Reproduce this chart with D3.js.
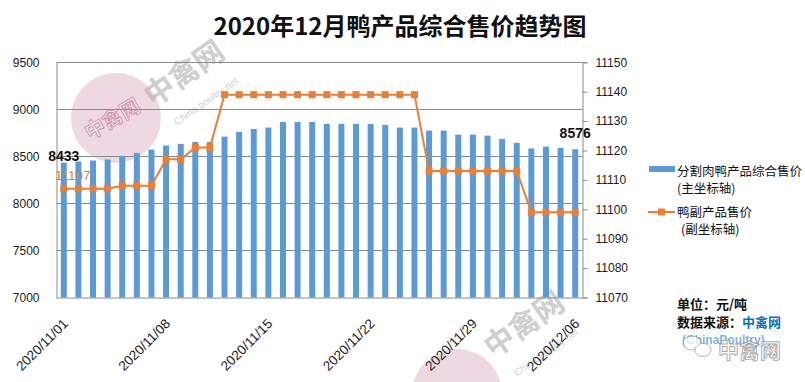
<!DOCTYPE html>
<html><head><meta charset="utf-8">
<script src="https://cdn.jsdelivr.net/npm/d3@7"></script>
<style>
html,body{margin:0;padding:0;background:#fff;}
svg{display:block;}
</style></head>
<body>
<svg id="chart" width="805" height="382"></svg>
<script>
const dates = ["2020/11/01","2020/11/02","2020/11/03","2020/11/04","2020/11/05","2020/11/06","2020/11/07","2020/11/08","2020/11/09","2020/11/10","2020/11/11","2020/11/12","2020/11/13","2020/11/14","2020/11/15","2020/11/16","2020/11/17","2020/11/18","2020/11/19","2020/11/20","2020/11/21","2020/11/22","2020/11/23","2020/11/24","2020/11/25","2020/11/26","2020/11/27","2020/11/28","2020/11/29","2020/11/30","2020/12/01","2020/12/02","2020/12/03","2020/12/04","2020/12/05","2020/12/06"];
const meatPrice = [8433,8445,8456,8467,8505,8537,8573,8615,8633,8654,8654,8710,8760,8791,8806,8866,8866,8866,8845,8845,8845,8845,8835,8806,8806,8774,8774,8731,8731,8721,8686,8644,8584,8604,8590,8576];
const byproductPrice = [11107,11107,11107,11107,11108,11108,11108,11117,11117,11121,11121,11139,11139,11139,11139,11139,11139,11139,11139,11139,11139,11139,11139,11139,11139,11113,11113,11113,11113,11113,11113,11113,11099,11099,11099,11099];
const leftTicks = [7000,7500,8000,8500,9000,9500];
const rightTicks = [11070,11080,11090,11100,11110,11120,11130,11140,11150];
const xLabelDates = ["2020/11/01","2020/11/08","2020/11/15","2020/11/22","2020/11/29","2020/12/06"];
const title = "2020年12月鸭产品综合售价趋势图";
const seriesNames = ["分割肉鸭产品综合售价","鸭副产品售价"];
const seriesAxisNotes = ["(主坐标轴)","(副坐标轴)"];

const svg = d3.select("#chart");
const L = 56.5, R = 582.5, T = 62.3, B = 297.5;
const BLUE = "#5B9BD5", ORANGE = "#ED7D31", GRID = "#8a8a8a";
const numFont = "'Liberation Sans', Arial, sans-serif";
const cjkFont = "'Noto Sans CJK SC', 'Noto Sans', sans-serif";

const x = d3.scaleBand().domain(dates).range([L, R]).paddingInner(0.59).paddingOuter(0.295);
const yL = d3.scaleLinear().domain([7000, 9500]).range([B, T]);
const yR = d3.scaleLinear().domain([11070, 11150]).range([B, T]);
const cx = d => x(d) + x.bandwidth() / 2;

// watermarks (behind)
function watermark(g, ccx, ccy, tx, ty, inner) {
  const w = g.append("g");
  w.append("circle").attr("cx", ccx).attr("cy", ccy).attr("r", 45).attr("fill", "#e3c0d1").attr("opacity", 0.6);
  w.append("circle").attr("cx", ccx).attr("cy", ccy).attr("r", 31).attr("fill", "#eed7e2").attr("opacity", 0.7);
  if (inner) {
    w.append("text").attr("transform", `translate(${ccx},${ccy + 7}) rotate(-30)`)
      .attr("text-anchor", "middle").attr("font-family", cjkFont).attr("font-weight", "bold")
      .attr("font-size", 20).attr("fill", "#f6eaf0").attr("stroke", "#d39bb6").attr("stroke-width", 1).text("中禽网");
  }
  w.append("text").attr("transform", `translate(${tx},${ty}) rotate(-35)`)
    .attr("text-anchor", "middle").attr("font-family", cjkFont).attr("font-weight", "bold")
    .attr("font-size", 30).attr("fill", "#b0b0b0").attr("opacity", 0.6).text("中禽网");
  w.append("text").attr("transform", `translate(${tx + 18},${ty + 22}) rotate(-35)`)
    .attr("text-anchor", "middle").attr("font-family", numFont)
    .attr("font-size", 10).attr("fill", "#c0c0c0").attr("opacity", 0.7).text("China poultry net");
}
const wm = svg.append("g");

// gridlines
svg.append("g").selectAll("line").data(leftTicks.filter(t => t > 7000)).join("line")
  .attr("x1", L).attr("x2", R).attr("y1", d => Math.round(yL(d)) + 0.5).attr("y2", d => Math.round(yL(d)) + 0.5)
  .attr("stroke", GRID).attr("stroke-width", 1);

watermark(wm, 116, 118, 190, 82, true);
watermark(wm, 457, 394, 530, 333, false);

// bars
svg.append("g").selectAll("rect").data(meatPrice).join("rect")
  .attr("x", (d, i) => x(dates[i])).attr("width", x.bandwidth())
  .attr("y", d => yL(d)).attr("height", d => B - yL(d)).attr("fill", BLUE);

// axes
const axL = svg.append("g").attr("transform", `translate(${L},0)`)
  .call(d3.axisLeft(yL).tickValues(leftTicks).tickSize(0).tickPadding(17).tickFormat(d3.format("d")));
const axR = svg.append("g").attr("transform", `translate(${R},0)`)
  .call(d3.axisRight(yR).tickValues(rightTicks).tickSize(5).tickPadding(8).tickFormat(d3.format("d")));
const axB = svg.append("g").attr("transform", `translate(0,${B})`)
  .call(d3.axisBottom(x).tickValues(xLabelDates).tickSize(0).tickFormat(d => d));
[axL, axR, axB].forEach(a => {
  a.select(".domain").attr("stroke", GRID).attr("stroke-width", 1);
  a.selectAll(".tick line").attr("stroke", GRID);
  a.selectAll("text").attr("font-family", numFont).attr("font-size", 12).attr("fill", "#1a1a1a");
});
axB.select(".domain").attr("d", `M${L},0.5H${R}`);
axB.selectAll(".tick text")
  .attr("font-size", 13.5)
  .attr("text-anchor", "end")
  .attr("transform", "translate(5,27) rotate(-45)")
  .attr("dy", 0).attr("y", 0).attr("x", 0);

// line
const line = d3.line().x((d, i) => cx(dates[i])).y(d => yR(d));
svg.append("path").datum(byproductPrice).attr("d", line)
  .attr("fill", "none").attr("stroke", ORANGE).attr("stroke-width", 2);
svg.append("g").selectAll("rect").data(byproductPrice).join("rect")
  .attr("x", (d, i) => cx(dates[i]) - 3.5).attr("y", d => yR(d) - 3.5)
  .attr("width", 7).attr("height", 7).attr("fill", ORANGE);

// data labels
const n = dates.length;
svg.append("text").attr("x", cx(dates[0])).attr("y", yL(meatPrice[0]) - 2)
  .attr("text-anchor", "middle").attr("font-family", numFont).attr("font-weight", "bold")
  .attr("font-size", 14).attr("fill", "#111").text(meatPrice[0]);
svg.append("text").attr("x", cx(dates[n - 1])).attr("y", yL(meatPrice[n - 1]) - 11)
  .attr("text-anchor", "middle").attr("font-family", numFont).attr("font-weight", "bold")
  .attr("font-size", 14).attr("fill", "#111").text(meatPrice[n - 1]);
svg.append("text").attr("x", cx(dates[0]) + 9).attr("y", yR(byproductPrice[0]) - 9)
  .attr("text-anchor", "middle").attr("font-family", numFont)
  .attr("font-size", 13.5).attr("fill", ORANGE).text(byproductPrice[0]);

// title
svg.append("text").attr("x", 400).attr("y", 35).attr("text-anchor", "middle")
  .attr("font-family", cjkFont).attr("font-weight", "bold").attr("font-size", 24)
  .attr("fill", "#111").text(title);

// legend
const lg = svg.append("g").attr("font-family", cjkFont).attr("font-size", 12.5).attr("fill", "#111");
lg.append("rect").attr("x", 649).attr("y", 166).attr("width", 26).attr("height", 6).attr("fill", BLUE);
lg.append("text").attr("x", 677).attr("y", 176).text(seriesNames[0]);
lg.append("text").attr("x", 677).attr("y", 193).text(seriesAxisNotes[0]);
lg.append("line").attr("x1", 648).attr("x2", 675).attr("y1", 212).attr("y2", 212)
  .attr("stroke", ORANGE).attr("stroke-width", 2);
lg.append("rect").attr("x", 658).attr("y", 208.5).attr("width", 7).attr("height", 7).attr("fill", ORANGE);
lg.append("text").attr("x", 677).attr("y", 217).text(seriesNames[1]);
lg.append("text").attr("x", 681).attr("y", 234).text(seriesAxisNotes[1]);

// unit / source
const src = svg.append("g").attr("font-family", cjkFont).attr("font-weight", "bold").attr("font-size", 13);
src.append("text").attr("x", 677).attr("y", 309).attr("fill", "#111").text("单位：元/吨");
const st = src.append("text").attr("x", 677).attr("y", 327).attr("fill", "#111");
st.append("tspan").text("数据来源：");
st.append("tspan").attr("fill", "#0070C0").text("中禽网");
src.append("text").attr("x", 682).attr("y", 344).attr("fill", "#2f7fd0").attr("opacity", 0.6)
  .attr("font-family", numFont).attr("font-size", 12).text("(ChinaPoultry)");
const wc = svg.append("g").attr("opacity", 0.7);
wc.append("ellipse").attr("cx", 692).attr("cy", 343).attr("rx", 9).attr("ry", 7).attr("fill", "#fff").attr("stroke", "#999");
wc.append("ellipse").attr("cx", 703).attr("cy", 350).attr("rx", 8).attr("ry", 6.5).attr("fill", "#fff").attr("stroke", "#999");
wc.append("text").attr("x", 718).attr("y", 358).attr("font-family", cjkFont).attr("font-weight", "bold")
  .attr("font-size", 21).attr("fill", "#fff").attr("stroke", "#8a8a8a").attr("stroke-width", 1).text("中禽网");
</script>
</body></html>
